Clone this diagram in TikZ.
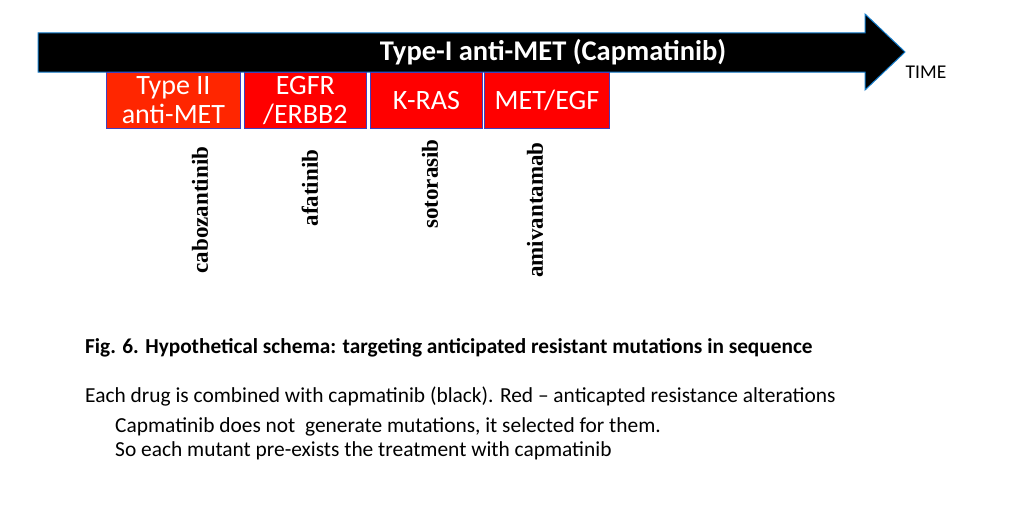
\documentclass[tikz,border=0pt]{standalone}
\usepackage{fontspec}
\setmainfont{Carlito}
\newfontfamily\tms{Liberation Serif}
\begin{document}
\begin{tikzpicture}[x=1pt,y=-1pt,
  box/.style={draw=blue!50!gray,line width=0.8pt,text=white,align=center,anchor=north west,inner sep=0pt,font=\fontsize{28}{29}\selectfont},
  drug/.style={rotate=90,font=\tms\bfseries\fontsize{23}{25}\selectfont},
  txt/.style={anchor=west,inner sep=0pt,font=\fontsize{21.4}{24}\selectfont}]
\useasboundingbox (0,0) rectangle (1024,511);
\fill[white] (0,0) rectangle (1024,511);
\draw[fill=black,draw=cyan!60!blue,line width=1pt] (38,33) -- (865,33) -- (865,14) -- (905,52) -- (865,90) -- (865,72) -- (38,72) -- cycle;
\node[text=white,font=\bfseries\fontsize{28.5}{30}\selectfont] (arr) at (553,52) {Type-I anti-MET (Capmatinib)};
\node[font=\fontsize{19.5}{21}\selectfont] (time) at (926,72) {TIME};
\node[box,fill=orange!30!red,minimum width=134pt,minimum height=56pt] (b1) at (106,72) {Type II\\anti-MET};
\node[box,fill=red,minimum width=122pt,minimum height=56pt] (b2) at (244,72) {EGFR\\/ERBB2};
\node[box,fill=red,minimum width=112pt,minimum height=56pt] (b3) at (370,72) {K-RAS};
\node[box,fill=red,minimum width=125pt,minimum height=56pt] (b4) at (484,72) {MET/EGF};
\node[drug] (d1) at (200,210) {cabozantinib};
\node[drug] (d2) at (310,188) {afatinib};
\node[drug] (d3) at (430,184) {sotorasib};
\node[drug] (d4) at (535,210) {amivantamab};
\node[txt,font=\bfseries\fontsize{21.3}{24}\selectfont] (c1) at (85,348) {Fig. 6. Hypothetical schema: targeting anticipated resistant mutations in sequence};
\node[txt] (c2) at (85,397) {Each drug is combined with capmatinib (black). Red -- anticapted resistance alterations};
\node[txt] (c3) at (115,427) {Capmatinib does not\ \ generate mutations, it selected for them.};
\node[txt] (c4) at (115,451) {So each mutant pre-exists the treatment with capmatinib};
\end{tikzpicture}
\end{document}
